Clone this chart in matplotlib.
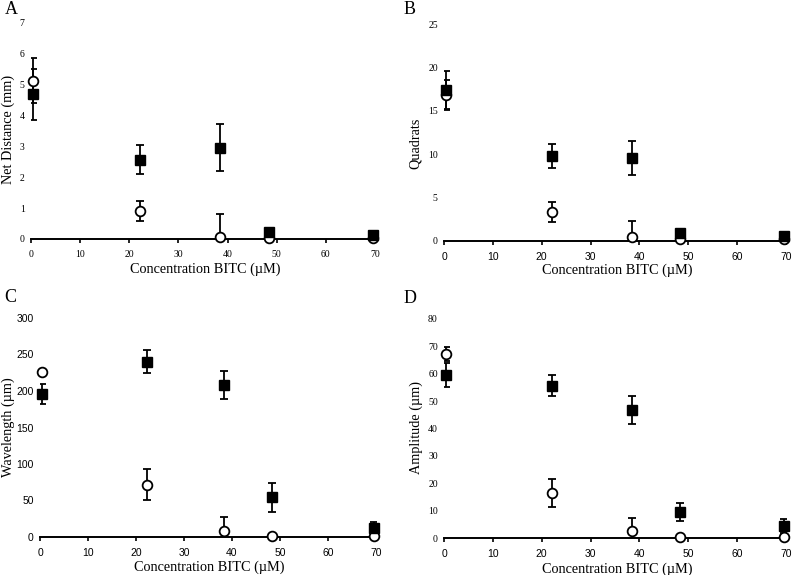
import matplotlib
matplotlib.use("Agg")
import matplotlib.pyplot as plt

# ---------------- data ----------------
conc = [0.5, 22.2, 38.4, 48.4, 69.6]
x_ticks = [0, 10, 20, 30, 40, 50, 60, 70]

dist_sq = [4.69, 2.57, 2.96, 0.22, 0.13]
dist_sq_err = [0.83, 0.47, 0.77, 0.0, 0.0]
dist_ci = [5.13, 0.90, 0.05, 0.02, 0.02]
dist_ci_err = [0.72, 0.33, 0.76, 0.0, 0.0]

quad_sq = [17.35, 9.83, 9.56, 0.88, 0.60]
quad_sq_err = [2.2, 1.4, 2.0, 0.0, 0.0]
quad_ci = [16.85, 3.38, 0.46, 0.19, 0.20]
quad_ci_err = [1.75, 1.15, 1.9, 0.0, 0.0]

wave_sq = [195.5, 240.2, 208.2, 54.3, 12.3]
wave_sq_err = [13.5, 16.0, 19.0, 19.4, 8.0]
wave_ci = [226.0, 71.7, 8.2, 1.4, 1.4]
wave_ci_err = [0.0, 21.0, 18.7, 0.0, 0.0]

amp_sq = [59.6, 55.7, 46.8, 9.5, 4.3]
amp_sq_err = [4.5, 4.0, 5.2, 3.4, 2.6]
amp_ci = [67.2, 16.3, 2.4, 0.4, 0.4]
amp_ci_err = [2.7, 5.1, 4.9, 0.0, 0.0]

W, H = 797, 575
SERIF = ["Liberation Serif", "DejaVu Serif"]
SANS = ["Liberation Sans", "DejaVu Sans"]

fig = plt.figure(figsize=(W / 100, H / 100), dpi=100)


def rect(x0, x1, ytop, ybot):
    return [x0 / W, (H - ybot) / H, (x1 - x0) / W, (ybot - ytop) / H]


panels = [
    ("A", (31, 375, 23, 239), 7, 1, "Net Distance (mm)", SERIF, SERIF,
     dist_sq, dist_sq_err, dist_ci, dist_ci_err,
     (5, 9), (8, 129), (205, 269)),
    ("B", (444, 786, 24, 241), 25, 5, "Quadrats", SERIF, SANS,
     quad_sq, quad_sq_err, quad_ci, quad_ci_err,
     (404, 9), (415, 143), (617, 270)),
    ("C", (40, 376, 318, 537), 300, 50, "Wavelength (\u00b5m)", SANS, SANS,
     wave_sq, wave_sq_err, wave_ci, wave_ci_err,
     (4, 297), (8, 427), (209, 567)),
    ("D", (444, 786, 319, 538), 80, 10, "Amplitude (\u00b5m)", SERIF, SANS,
     amp_sq, amp_sq_err, amp_ci, amp_ci_err,
     (404, 298), (416, 428), (617, 569)),
]

for (letter, r, ymax, ystep, ylabel, yfont, xfont,
     sq, sq_err, ci, ci_err, lpos, ylpos, xlpos) in panels:
    ax = fig.add_axes(rect(*r))
    ax.set_xlim(0, 70)
    ax.set_ylim(0, ymax)
    ax.set_xticks(x_ticks)
    ax.set_yticks(list(range(0, ymax + 1, ystep)))
    for s in ("top", "right", "left"):
        ax.spines[s].set_visible(False)
    ax.spines["bottom"].set_linewidth(1.4)
    ysize = 7 if yfont is SERIF else 7.5
    xsize = 7 if xfont is SERIF else 7.5
    ax.tick_params(axis="y", length=0, pad=4.5, labelsize=ysize)
    ax.tick_params(axis="x", direction="out", length=3, width=1.2,
                   pad=5, labelsize=xsize)
    for t in ax.get_yticklabels():
        t.set_family(yfont)
    for t in ax.get_xticklabels():
        t.set_family(xfont)

    # error bars (clipped at axis)
    ax.errorbar(conc, ci, yerr=ci_err, fmt="none", ecolor="black",
                elinewidth=1.3, capsize=2.6, capthick=1.3, zorder=2)
    ax.errorbar(conc, sq, yerr=sq_err, fmt="none", ecolor="black",
                elinewidth=1.3, capsize=2.6, capthick=1.3, zorder=2)
    # markers
    ax.plot(conc, ci, linestyle="none", marker="o", markersize=7,
            markerfacecolor="white", markeredgecolor="black",
            markeredgewidth=1.3, clip_on=False, zorder=3)
    ax.plot(conc, sq, linestyle="none", marker="s", markersize=7.8,
            markerfacecolor="black", markeredgecolor="black",
            clip_on=False, zorder=4)

    fig.text(lpos[0] / W, 1 - lpos[1] / H, letter, ha="left", va="center",
             fontsize=13, family=SERIF)
    fig.text(ylpos[0] / W, 1 - ylpos[1] / H, ylabel, ha="center",
             va="center", rotation=90, fontsize=10.3, family=SERIF)
    fig.text(xlpos[0] / W, 1 - xlpos[1] / H, "Concentration BITC (\u00b5M)",
             ha="center", va="center", fontsize=10.3, family=SERIF)

fig.savefig("out.png", dpi=100)
